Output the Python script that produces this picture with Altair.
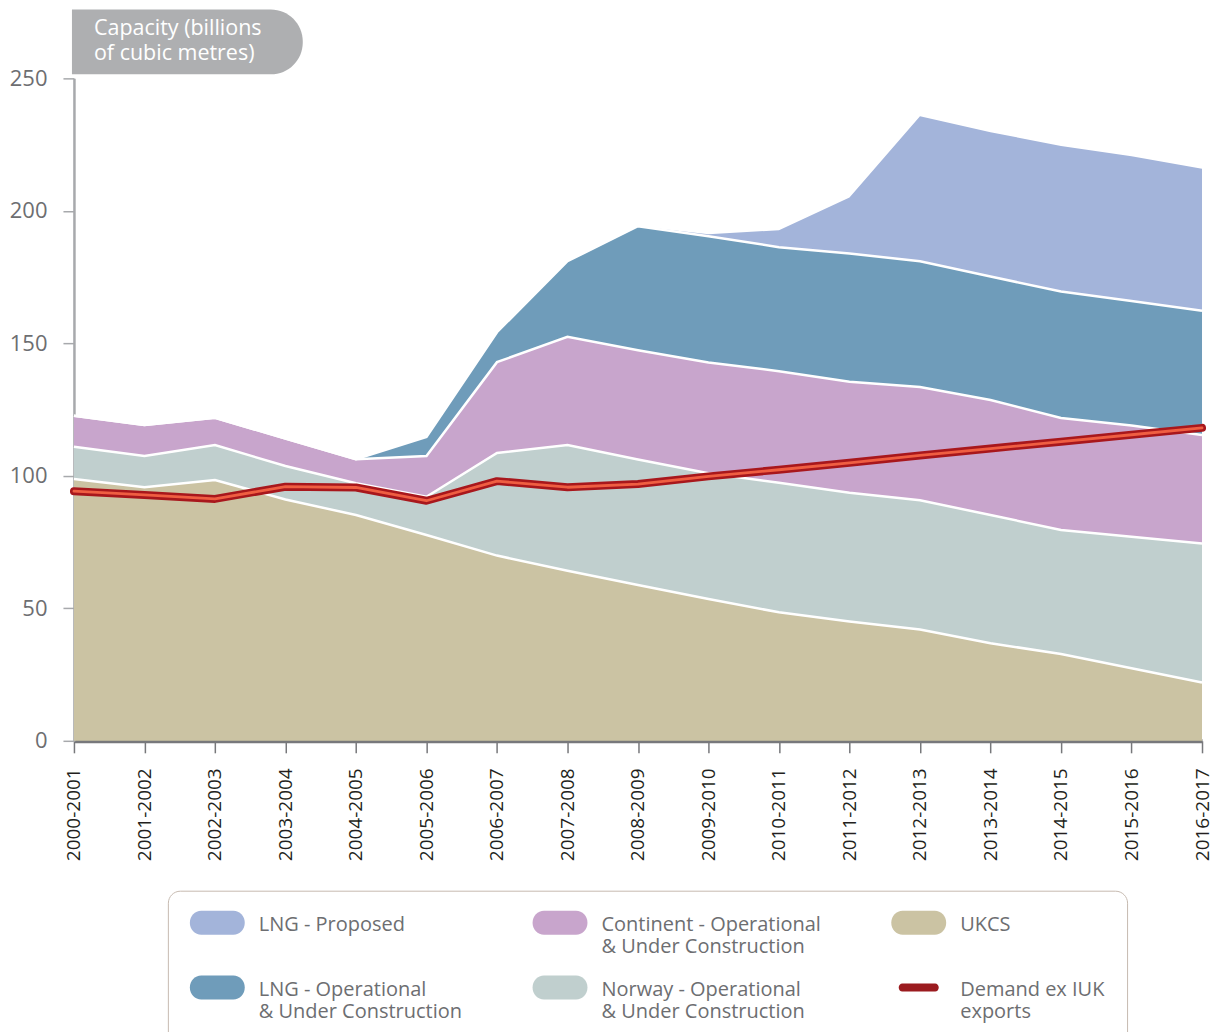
import json
import altair as alt
import pandas as pd

years = ["2000-2001", "2001-2002", "2002-2003", "2003-2004", "2004-2005", "2005-2006",
         "2006-2007", "2007-2008", "2008-2009", "2009-2010", "2010-2011", "2011-2012",
         "2012-2013", "2013-2014", "2014-2015", "2015-2016", "2016-2017"]

ukcs = [98.8, 95.7, 98.4, 91.1, 85.2, 77.7, 69.9, 64.2, 58.8, 53.5, 48.5, 45.0, 42.0, 36.8, 32.8, 27.4, 22.0]
norway = [12.2, 11.8, 13.2, 12.6, 12.0, 14.4, 38.7, 47.4, 47.4, 47.5, 48.9, 48.6, 48.8, 48.4, 46.8, 49.6, 52.5]
continent = [11.7, 11.7, 10.3, 10.4, 9.1, 15.4, 34.3, 40.9, 41.2, 41.8, 42.1, 41.9, 42.7, 43.4, 42.2, 42.0, 40.9]
lng_op = [0, 0, 0, 0, 0, 7.2, 11.3, 28.5, 46.8, 47.6, 46.8, 48.4, 47.5, 46.6, 47.8, 47.0, 46.9]
lng_prop = [0, 0, 0, 0, 0, 0, 0, 0, 0, 0.8, 6.4, 21.1, 54.7, 54.5, 54.9, 54.6, 53.6]
demand = [94.2, 92.8, 91.3, 95.9, 95.6, 90.6, 98.0, 95.7, 96.9, 99.8, 102.3, 104.9, 107.7, 110.3, 112.9, 115.5, 118.1]

S_UKCS = "UKCS"
S_NOR = "Norway - Operational & Under Construction"
S_CON = "Continent - Operational & Under Construction"
S_LOP = "LNG - Operational & Under Construction"
S_LPR = "LNG - Proposed"
S_DEM = "Demand ex IUK exports"

stack_order = [S_UKCS, S_NOR, S_CON, S_LOP, S_LPR]
stack_values = [ukcs, norway, continent, lng_op, lng_prop]

# legend order (row-major, 3 columns)
legend_domain = [S_LPR, S_CON, S_UKCS, S_LOP, S_NOR, S_DEM]
legend_colors = ["#A3B4DA", "#C8A5CC", "#CBC3A3", "#6F9CBA", "#C0CFCE", "#9B1B1F"]
legend_lines = {
    S_LPR: ["LNG - Proposed", ""],
    S_CON: ["Continent - Operational", "& Under Construction"],
    S_UKCS: ["UKCS", ""],
    S_LOP: ["LNG - Operational", "& Under Construction"],
    S_NOR: ["Norway - Operational", "& Under Construction"],
    S_DEM: ["Demand ex IUK", "exports"],
}

rows = []
for k, (name, vals) in enumerate(zip(stack_order, stack_values)):
    for y, v in zip(years, vals):
        rows.append({"year": y, "series": name, "value": v, "order": k})
df = pd.DataFrame(rows)
dem_df = pd.DataFrame({"year": years, "demand": demand})
leg_df = pd.DataFrame({"series": legend_domain})

FONT = "Open Sans"
W, H = 1129, 663

# legend symbol paths (unit = 12 px with symbolSize 576)
pill = ("M-0.05,-1.167 L2.63,-1.167 A0.95,1 0 0 1 3.58,-0.167 A0.95,1 0 0 1 2.63,0.833 "
        "L-0.05,0.833 A0.95,1 0 0 1 -1,-0.167 A0.95,1 0 0 1 -0.05,-1.167 Z")
bar = ("M-0.08,-0.5 L2.66,-0.5 A0.3,0.333 0 0 1 2.96,-0.167 A0.3,0.333 0 0 1 2.66,0.167 "
       "L-0.08,0.167 A0.3,0.333 0 0 1 -0.38,-0.167 A0.3,0.333 0 0 1 -0.08,-0.5 Z")
shape_range = [pill, pill, pill, pill, pill, bar]

color_scale = alt.Scale(domain=legend_domain, range=legend_colors)
x_enc = alt.X("year:O", sort=years, scale=alt.Scale(type="point", padding=0),
              axis=alt.Axis(title=None, labelAngle=-90, labelFont=FONT, labelFontSize=19,
                            labelColor="#231F20", domainColor="#77787B", domainWidth=4,
                            tickColor="#77787B", tickSize=12, tickWidth=1.5, labelPadding=15))
y_scale = alt.Scale(domain=[0, 250], nice=False)
y_axis = alt.Axis(title=None, values=[0, 50, 100, 150, 200, 250], labelFont=FONT,
                  labelFontSize=22, labelColor="#6D6E71", domainColor="#A7A9AC",
                  domainWidth=2.5, tickColor="#A7A9AC", tickSize=11, tickWidth=1.5,
                  labelPadding=16, grid=False)

label_expr = "(" + json.dumps(legend_lines) + ")[datum.label]"
legend_props = dict(
    title=None, orient="none", legendX=94, legendY=813, direction="horizontal",
    columns=3, columnPadding=70, rowPadding=18, padding=22,
    strokeColor="#C6BAB0", cornerRadius=12, symbolSize=576, symbolStrokeWidth=0,
    symbolOpacity=1, labelFont=FONT, labelFontSize=20, labelColor="#6D6E71",
    labelExpr=label_expr, labelOffset=45, labelLimit=400, labelBaseline="middle",
)

base = alt.Chart(df).transform_stack(
    stack="value", as_=["y0", "y1"], groupby=["year"],
    sort=[alt.SortField("order", order="ascending")], offset="zero")

areas = base.mark_area(opacity=1).encode(
    x=x_enc,
    y=alt.Y("y1:Q", scale=y_scale, axis=y_axis),
    y2="y0:Q",
    color=alt.Color("series:N", scale=color_scale, legend=alt.Legend(**legend_props)),
)

edges = base.transform_filter(
    alt.FieldOneOfPredicate(field="series", oneOf=[S_UKCS, S_NOR, S_CON, S_LOP])
).mark_line(color="white", strokeWidth=2.5).encode(
    x=alt.X("year:O", sort=years),
    y=alt.Y("y1:Q"),
    detail="series:N",
)

dem_outer = alt.Chart(dem_df).mark_line(color="#A8171C", strokeWidth=8, strokeCap="round",
                                        strokeJoin="round").encode(
    x=alt.X("year:O", sort=years), y=alt.Y("demand:Q"))
dem_inner = alt.Chart(dem_df).mark_line(color="#EF5E42", strokeWidth=2.8, strokeCap="round",
                                        strokeJoin="round").encode(
    x=alt.X("year:O", sort=years), y=alt.Y("demand:Q"))

legend_layer = alt.Chart(leg_df).mark_point(
    filled=True, opacity=0, size=0).encode(
    color=alt.Color("series:N", scale=color_scale, legend=alt.Legend(**legend_props)),
    shape=alt.Shape("series:N", scale=alt.Scale(domain=legend_domain, range=shape_range),
                    legend=alt.Legend(**legend_props)),
)

box_df = pd.DataFrame({"t": ["Capacity (billions\nof cubic metres)"]})
title_box = alt.Chart(box_df).mark_rect(
    color="#AEAFB1", cornerRadiusTopRight=32, cornerRadiusBottomRight=32
).encode(x=alt.value(-2), x2=alt.value(229), y=alt.value(-69), y2=alt.value(-4))
title_text = alt.Chart(box_df).mark_text(
    align="left", baseline="middle", font=FONT, fontSize=21.5, color="white",
    lineBreak="\n", lineHeight=25
).encode(x=alt.value(20), y=alt.value(-49), text="t:N")

chart = alt.layer(areas, edges, dem_outer, dem_inner, legend_layer, title_box, title_text).properties(
    width=W, height=H,
    autosize=alt.AutoSizeParams(type="none"),
    padding={"left": 66, "top": 70, "right": 13, "bottom": 291},
).configure_view(stroke=None).configure_axis(labelFlush=False)

chart.save("out.html", embed_options={"renderer": "svg", "actions": False})
